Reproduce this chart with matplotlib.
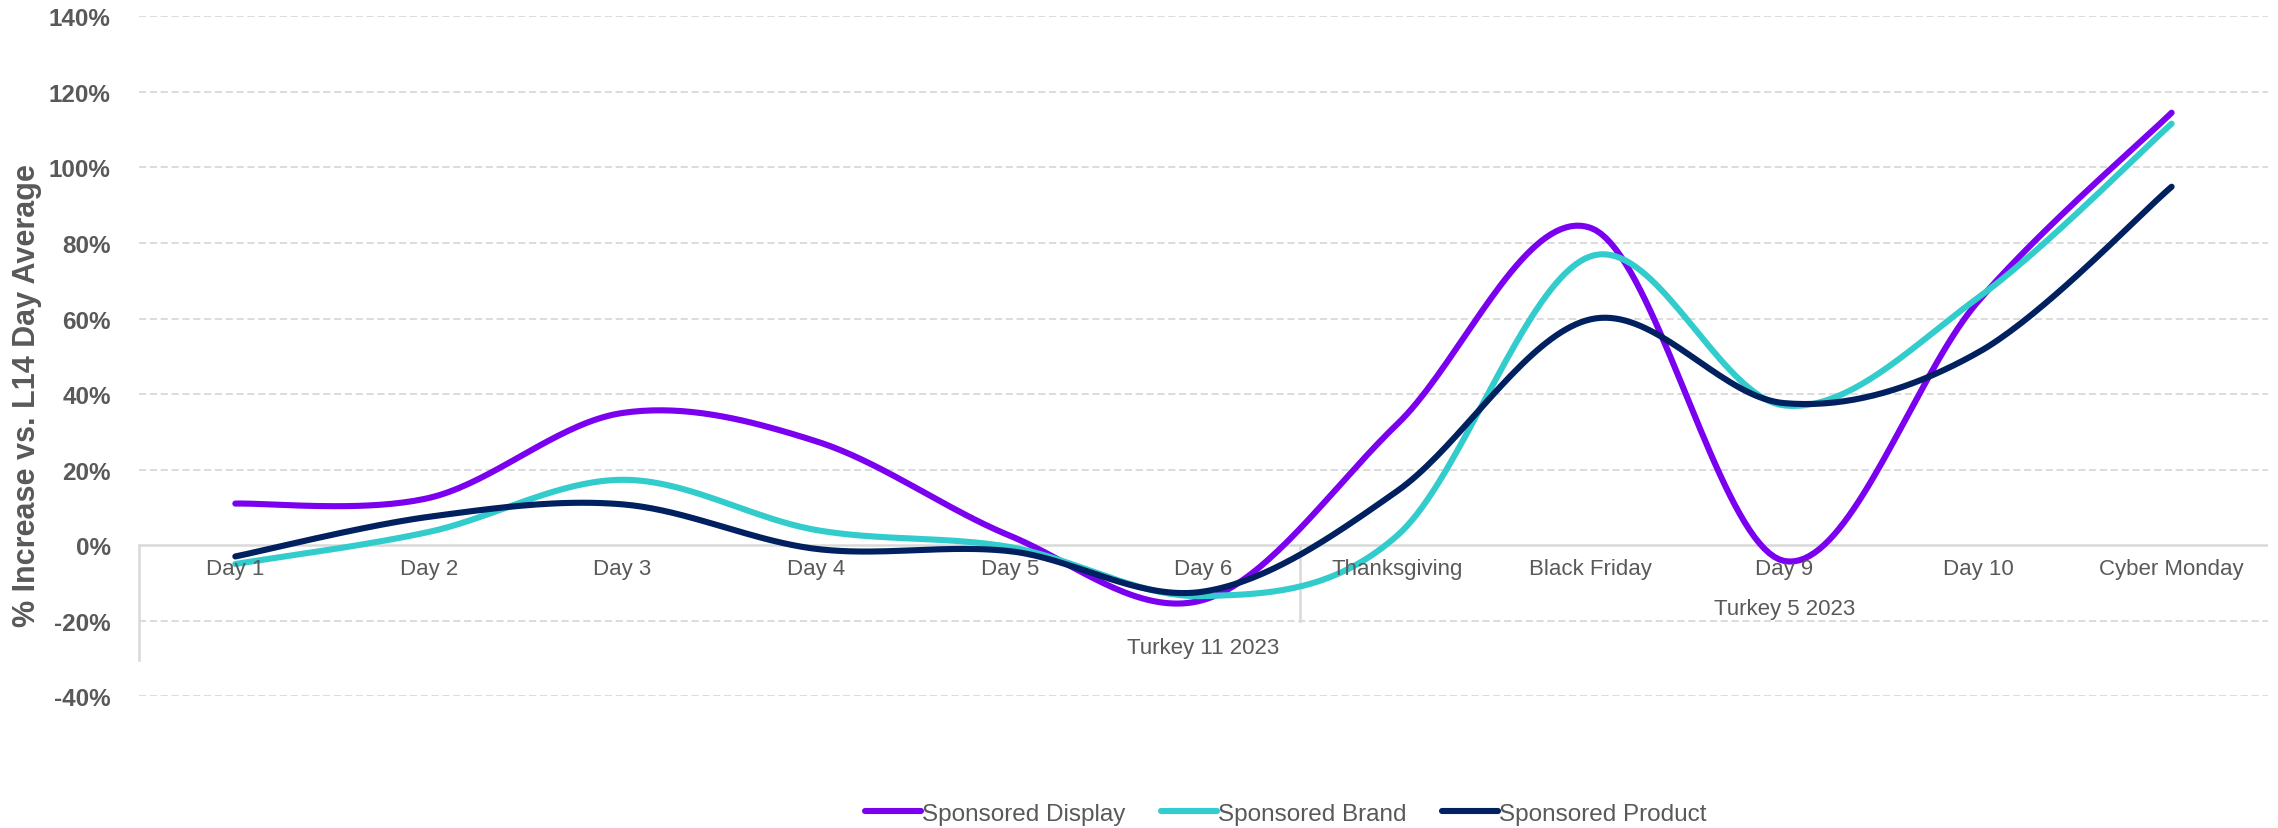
import numpy as np
import matplotlib
matplotlib.use("Agg")
import matplotlib.pyplot as plt

# *** Data *** #
days = ["Day 1", "Day 2", "Day 3", "Day 4", "Day 5", "Day 6",
        "Thanksgiving", "Black Friday", "Day 9", "Day 10", "Cyber Monday"]
sponsored_display = [11, 12.5, 35, 27.5, 2.5, -14.5, 32, 84, -4.2, 64.5, 114.5]
sponsored_brand = [-5, 3.5, 17.3, 4, -0.5, -13.5, 2.5, 76.5, 37, 65.5, 111.6]
sponsored_product = [-3, 7.5, 10.8, -1, -1.6, -12.3, 14.3, 59.8, 37.6, 51, 94.9]
group_labels = ["Turkey 11 2023", "Turkey 5 2023"]
y_ticks = [-40, -20, 0, 20, 40, 60, 80, 100, 120, 140]

GREY = "#595959"
NARROW = ["Liberation Sans Narrow", "Liberation Sans", "DejaVu Sans"]
BOLD = ["Liberation Sans", "DejaVu Sans"]


def smooth(ys, n=40):
    """Bezier smoothing through every point, like a spreadsheet 'smoothed line'."""
    pts = np.column_stack([np.arange(len(ys)), np.asarray(ys, float)])
    out = []
    for i in range(len(pts) - 1):
        p0 = pts[max(i - 1, 0)]
        p1 = pts[i]
        p2 = pts[i + 1]
        p3 = pts[min(i + 2, len(pts) - 1)]
        c1 = p1 + (p2 - p0) / 6
        c2 = p2 - (p3 - p1) / 6
        t = np.linspace(0, 1, n)[:, None]
        seg = ((1 - t) ** 3) * p1 + 3 * ((1 - t) ** 2) * t * c1 \
            + 3 * (1 - t) * t ** 2 * c2 + t ** 3 * p2
        out.append(seg if i == 0 else seg[1:])
    seg = np.vstack(out)
    return seg[:, 0], seg[:, 1]


fig = plt.figure(figsize=(22.78, 8.29), dpi=100)
ax = fig.add_axes([0.0608, 0.159, 0.935, 0.82])

series = [
    ("Sponsored Display", sponsored_display, "#7B00F0"),
    ("Sponsored Brand", sponsored_brand, "#33CCCC"),
    ("Sponsored Product", sponsored_product, "#002060"),
]
for name, vals, col in series:
    sx, sy = smooth(vals)
    ax.plot(sx, sy, color=col, lw=4.4, solid_capstyle="round", label=name, zorder=3)

ax.set_xlim(-0.5, len(days) - 0.5)
ax.set_ylim(-40, 140)
ax.set_yticks(y_ticks)
ax.set_yticklabels([f"{v}%" for v in y_ticks], fontsize=17.5, fontweight="bold",
                   color=GREY, family=BOLD)
ax.tick_params(axis="y", length=0, pad=20)
ax.set_xticks([])
for s in ax.spines.values():
    s.set_visible(False)

# dashed gridlines, solid zero line
for v in y_ticks:
    if v != 0:
        ax.axhline(v, color="#d9d9d9", lw=1.3, ls=(0, (4, 2)), zorder=1)
ax.axhline(0, color="#d9d9d9", lw=1.8, zorder=2)

# category axis sitting on the zero line
for i, d in enumerate(days):
    ax.text(i, -6.3, d, ha="center", va="center", fontsize=16, color=GREY, family=NARROW)
ax.plot([-0.5, -0.5], [0, -30.5], color="#d9d9d9", lw=1.8, zorder=2, clip_on=False)
ax.plot([5.5, 5.5], [0, -20], color="#d9d9d9", lw=1.8, zorder=2)
ax.text(5, -27, group_labels[0], ha="center", va="center", fontsize=16, color=GREY, family=NARROW)
ax.text(8, -16.7, group_labels[1], ha="center", va="center", fontsize=16, color=GREY, family=NARROW)

ax.set_ylabel("% Increase vs. L14 Day Average", fontsize=22, fontweight="bold",
              color=GREY, family=BOLD)
ax.yaxis.set_label_coords(-0.0453, 0.443)

fig.legend(loc="center", bbox_to_anchor=(0.5645, 0.017), ncol=3, frameon=False,
           handlelength=2.3, handletextpad=0.05, columnspacing=1.45,
           prop={"family": NARROW, "size": 17.5}, labelcolor=GREY)

plt.savefig("out.png", dpi=100)
